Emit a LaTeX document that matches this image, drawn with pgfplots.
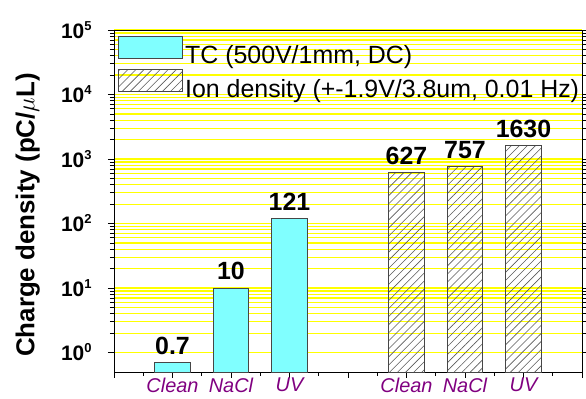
\documentclass[border=0pt]{standalone}
\usepackage{fontspec}
\setmainfont{Liberation Sans}
\usepackage{pgfplots}
\pgfplotsset{compat=1.18}
\usetikzlibrary{patterns.meta}
\definecolor{cyanfill}{RGB}{128,255,255}
\definecolor{gridyellow}{RGB}{255,255,0}
\definecolor{xlab}{RGB}{128,0,128}
\definecolor{edge}{RGB}{70,70,70}
\newcommand{\tp}[1]{\textbf{10}\raisebox{8bp}{\fontsize{13}{13}\selectfont\textbf{#1}}}
\newcommand{\legfont}{\fontsize{25}{29}\selectfont}
\begin{document}
\begin{tikzpicture}
\begin{axis}[
  scale only axis, width=468bp, height=342bp,
  ymode=log, ymin=0.5, ymax=1e5, log origin=infty,
  xmin=0, xmax=8,
  xtick={0,1,2,3,4,5,6,7,8},
  xticklabels={,Clean,NaCl,UV,,Clean,NaCl,UV,},
  minor xtick={0.5,1.5,2.5,3.5,4.5,5.5,6.5,7.5},
  xtick pos=bottom, ytick pos=both, tick align=outside,
  major tick length=6bp, minor tick length=4bp,
  ytick={1,10,100,1000,10000,100000},
  yticklabels={\tp{0},\tp{1},\tp{2},\tp{3},\tp{4},\tp{5}},
  ymajorgrids, yminorgrids,
  major grid style={gridyellow, line width=1.2bp},
  minor grid style={gridyellow, line width=1.2bp},
  axis line style={black, line width=0.9bp},
  every tick/.style={black, line width=0.8bp},
  yticklabel style={font=\fontsize{21}{25}\selectfont, xshift=-13bp},
  xticklabel style={font=\fontsize{20}{24}\selectfont\itshape, text=xlab, inner sep=1bp, yshift=1bp},
  ylabel={Charge density (pC/$\mu$L)},
  ylabel style={font=\fontsize{26}{30}\selectfont\bfseries, inner sep=0pt, anchor=south, at={(axis description cs:-0.158,0.459)}},
  ybar, bar width=0.6, bar shift=0pt,
  point meta=explicit symbolic,
  nodes near coords={\pgfplotspointmeta},
  every node near coord/.append style={font=\fontsize{25}{29}\selectfont\bfseries, black, anchor=south, yshift=4bp},
  legend style={at={(axis description cs:0,1)}, anchor=north west, draw=none, fill=none,
    font=\legfont, inner xsep=4bp, inner ysep=6bp, row sep=2bp},
  legend cell align=left,
  legend image code/.code={\draw[#1] (0bp,-3bp) rectangle (64bp,19bp);},
]
\addplot[draw=edge, line width=1bp, fill=cyanfill] coordinates {(1,0.7) [0.7] (2,10) [10] (3,121) [121]};
\addlegendentry{\legfont TC (500V/1mm, DC)}
\addplot[draw=edge, line width=1bp, pattern={Lines[angle=45,distance=5.7bp,line width=0.6bp]}, pattern color=gray!70!black] coordinates {(5,627) [627] (6,757) [757] (7,1630) [1630]};
\addlegendentry{\legfont Ion density (+-1.9V/3.8um, 0.01 Hz)}
\end{axis}
\pgfresetboundingbox
\path (current axis.south west) ++(-114bp,-27bp) rectangle ++(586bp,399bp);
\end{tikzpicture}
\end{document}
